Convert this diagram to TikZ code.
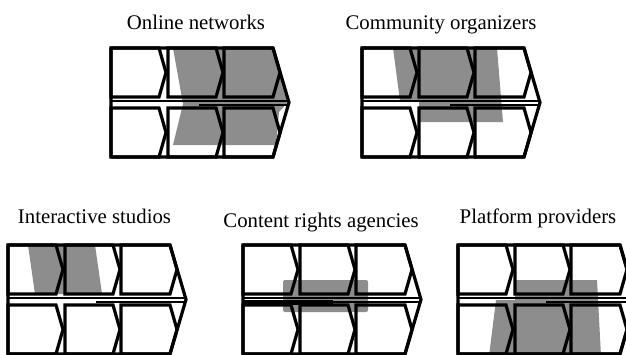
\documentclass[tikz,border=0pt]{standalone}
\usepackage{fontspec}
\setmainfont{Liberation Serif}
\definecolor{shadegray}{RGB}{141,141,141}
\tikzset{
  cellline/.style={line width=3.2pt, line join=miter, black},
  outerline/.style={line width=3.2pt, line join=round, black},
  midline/.style={line width=1.8pt, black},
  shadefill/.style={fill=shadegray, draw=none},
  paneltitle/.style={font=\fontsize{20.8}{24}\selectfont, anchor=base, inner sep=0pt},
}
\newcommand\vchainpanel[2]{%
\begin{scope}[shift={(#1,#2)}]
  \draw[midline] (0,53) -- (177.6,53);
  \draw[midline] (88,56.6) -- (177,56.6);
  \foreach \ya/\yb/\ym in {0/49/24.5, 60/109/84.5} {
    \foreach \xl/\xr in {0/48, 57/105, 113/162} {
      \draw[cellline] (\xl,\ya) -- (\xr,\ya) -- (\xr+7,\ym) -- (\xr,\yb) -- (\xl,\yb) -- cycle;
    }
  }
  \draw[outerline] (0,0) -- (162,0) -- (178,54.5) -- (162,109) -- (0,109) -- cycle;
\end{scope}}
\begin{document}
\begin{tikzpicture}[x=1pt,y=-1pt]
\useasboundingbox[fill=white] (0,0) rectangle (626,354);
% shaded coverage areas
\fill[shadefill] (173,48) -- (274,48) -- (289,101) -- (279,112) -- (276,145) -- (173,145) -- (183,104) -- cycle;
\fill[shadefill] (393,48) -- (497,48) -- (503,122) -- (419,122) -- (419,101) -- (400,101) -- cycle;
\fill[shadefill] (28,245) -- (95,245) -- (102,294) -- (35,294) -- cycle;
\fill[shadefill, rounded corners=2pt] (283,280) rectangle (368,312);
\fill[shadefill] (515,280) -- (597,280) -- (601,356) -- (489,356) -- (496,300) -- (515,300) -- cycle;
% panels
\vchainpanel{111}{48}
\vchainpanel{362}{48}
\vchainpanel{8}{245}
\vchainpanel{243}{245}
\fill[black] (243,300) rectangle (333,305);
\vchainpanel{458}{245}
% titles
\node[paneltitle] (t1) at (196,29) {Online networks};
\node[paneltitle] (t2) at (441,29) {Community organizers};
\node[paneltitle] (t3) at (94.5,223) {Interactive studios};
\node[paneltitle] (t4) at (321,227) {Content rights agencies};
\node[paneltitle] (t5) at (538,223) {Platform providers};
\end{tikzpicture}
\end{document}
